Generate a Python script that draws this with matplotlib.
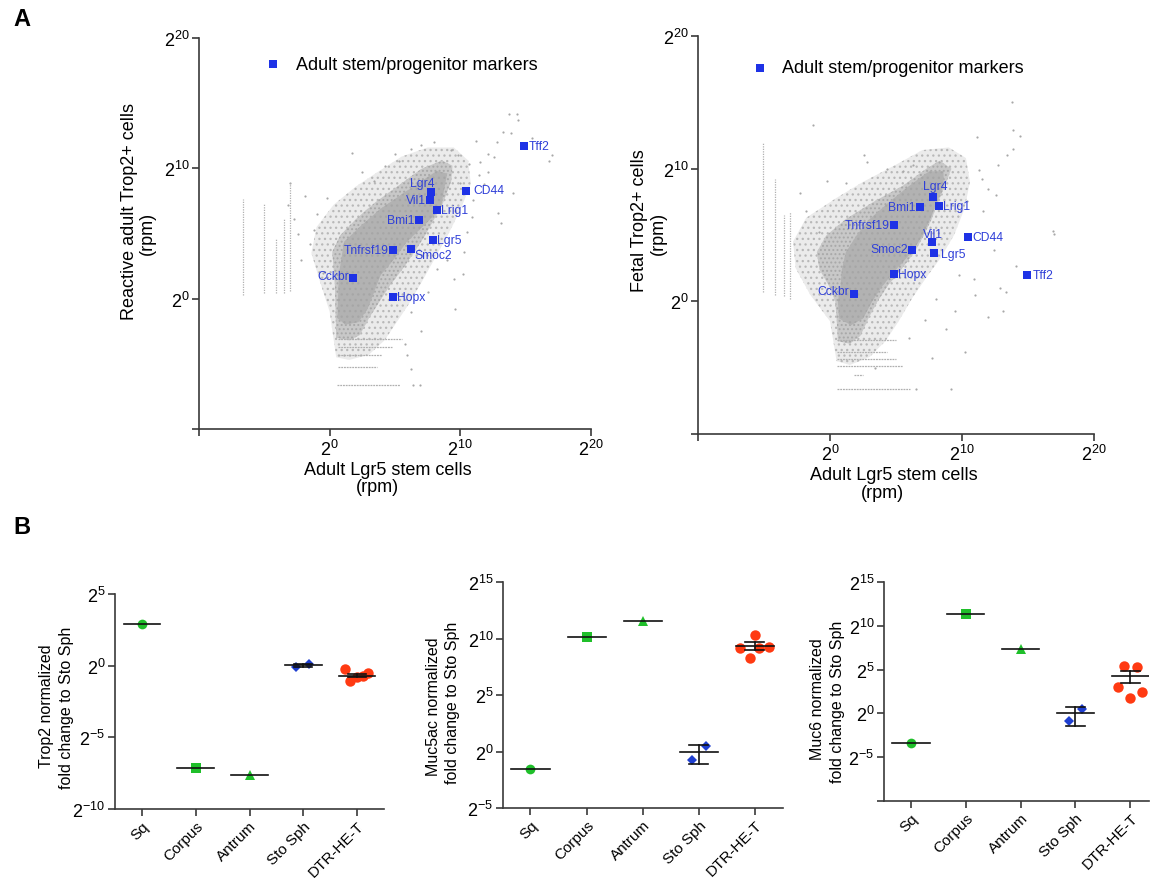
import numpy as np
import matplotlib
matplotlib.use('Agg')
import matplotlib.pyplot as plt
from matplotlib.patches import Polygon

plt.rcParams['font.family'] = ['Liberation Sans', 'DejaVu Sans']
plt.rcParams['mathtext.fontset'] = 'custom'
plt.rcParams['mathtext.rm'] = 'Liberation Sans'
plt.rcParams['mathtext.it'] = 'Liberation Sans:italic'
plt.rcParams['mathtext.bf'] = 'Liberation Sans:bold'
plt.rcParams['hatch.linewidth'] = 0.9

# ---------------- DATA (log2 units) ----------------
genes = ['Tff2', 'CD44', 'Lgr4', 'Vil1', 'Lrig1', 'Bmi1', 'Lgr5', 'Smoc2', 'Tnfrsf19', 'Cckbr', 'Hopx']
adult_lgr5_log2 = [14.9, 10.47, 7.78, 7.69, 8.22, 6.83, 7.87, 6.2, 4.82, 1.8, 4.83]
reactive_trop2_log2 = [11.7, 8.24, 8.21, 7.58, 6.79, 6.05, 4.52, 3.78, 3.75, 1.61, 0.10]
fetal_trop2_log2 = [2.01, 4.82, 7.84, 4.47, 7.19, 7.14, 3.64, 3.84, 5.78, 0.58, 2.09]

# background gene cloud (left panel): solid core, dense speckle, sparse speckle outlines
core_L_x = [0.6, 0.7, 1.1, 2.4, 3.9, 5.5, 7.0, 8.2, 9.0, 8.8, 8.5, 7.2, 5.9, 4.9, 3.9, 3.4, 2.9, 2.2, 1.2]
core_L_y = [-1.5, 1.8, 4.35, 5.6, 6.9, 8.0, 9.0, 9.8, 9.6, 8.6, 6.9, 5.6, 4.35, 3.0, 1.8, 0.5, -0.77, -1.8, -2.0]
dense_L_x = [0.5, 0.4, 0.3, 0.2, 0.8, 2.0, 3.5, 5.3, 7.0, 8.6, 9.4, 9.3, 8.7, 8.0, 7.3, 6.5, 5.6, 4.6, 3.8, 3.0, 2.3, 1.5]
dense_L_y = [-3.0, 1.0, 2.3, 3.6, 4.85, 6.1, 7.4, 8.7, 9.95, 10.6, 10.2, 9.0, 7.4, 6.1, 4.85, 3.6, 2.3, 1.0, -0.25, -1.5, -2.8, -3.2]
sparse_L_x = [0.5, 0.0, -0.8, -1.4, -1.0, 0.3, 2.0, 3.8, 5.5, 7.5, 9.5, 10.6, 10.8, 10.0, 9.0, 8.0, 7.0, 6.0, 5.0, 4.2, 3.0, 1.5]
sparse_L_y = [-4.5, -1.0, 1.5, 3.5, 5.5, 7.2, 8.6, 9.8, 10.9, 11.6, 11.6, 10.6, 8.8, 6.8, 4.8, 3.0, 1.2, -0.5, -2.0, -3.2, -4.3, -4.7]
out_L_x = [13.7, 14.3, 14.4, 13.3, 13.9, 12.8, 11.2, 12.1, 12.6, 11.5, 10.7, 12.1, 11.4, 14.0, 12.9, 13.1,
           10.9, 10.5, 10.3, 17.0, 16.8, 15.5, 11.8, 9.8, 9.0, 8.2, 9.5, 7.5, 6.2, 5.0, 5.3, 3.4, 1.7,
           -0.2, -1.0, -3.0, -2.7, -1.5, -0.5, -1.2, 2.5, 4.2, 6.2, 7.0, 8.0, 9.3, 10.0, 11.0, 10.2, 9.6,
           7.0, 5.8, 6.4, 6.2, 6.9, 5.9, -3.2, -2.4, -1.9, -2.2]
out_L_y = [14.2, 14.2, 13.7, 12.8, 12.7, 12.0, 12.1, 11.1, 10.9, 10.5, 10.3, 9.7, 9.5, 8.1, 6.6, 5.8,
           6.3, 5.1, 3.6, 11.0, 10.6, 12.3, 8.8, 11.0, 3.0, 2.3, 1.5, 0.5, -1.0, 11.1, 10.6, 9.0, 11.2,
           7.7, 6.5, 8.9, 6.1, 4.2, 2.0, 5.3, 9.7, 10.2, 11.5, 11.8, 12.0, 11.4, 8.9, 7.6, 1.9, -0.8,
           -2.5, -3.5, -6.6, -5.4, -6.6, -4.3, 7.2, 5.0, 7.9, 3.0]
# right panel
core_R_x = [0.7, 0.6, 0.8, 0.9, 1.2, 2.0, 3.0, 4.5, 6.0, 7.5, 8.6, 8.6, 8.1, 7.6, 7.0, 6.2, 5.0, 4.0, 3.2, 2.5, 1.6]
core_R_y = [-1.3, 0.0, 1.2, 2.4, 3.7, 4.95, 6.2, 7.5, 8.7, 9.8, 9.8, 8.7, 7.5, 6.2, 4.95, 3.7, 2.4, 1.2, 0.0, -1.3, -1.8]
dense_R_x = [0.6, 0.5, 0.4, -0.1, -0.8, -1.0, -0.3, 1.2, 3.3, 5.5, 7.3, 8.3, 9.2, 8.7, 8.2, 7.7, 7.1, 6.4, 5.4, 4.4, 3.6, 2.9, 2.3, 1.5]
dense_R_y = [-3.0, -1.3, 0.0, 1.2, 2.4, 3.7, 4.95, 6.2, 7.5, 8.7, 10.0, 10.6, 10.0, 8.7, 7.5, 6.2, 4.95, 3.7, 2.4, 1.2, 0.0, -1.3, -2.6, -3.2]
sparse_R_x = [0.5, 0.0, -1.5, -2.6, -2.8, -1.8, 0.5, 2.5, 5.0, 7.0, 9.0, 10.3, 10.6, 10.2, 9.4, 8.4, 7.3, 6.2, 5.2, 4.2, 3.0, 1.5]
sparse_R_y = [-4.5, -1.5, 0.5, 2.5, 4.5, 6.3, 7.8, 9.0, 10.3, 11.4, 11.6, 10.8, 9.0, 7.0, 5.0, 3.3, 1.8, 0.2, -1.5, -3.0, -4.2, -4.8]
out_R_x = [13.76, 13.9, 14.4, 11.1, 13.9, 13.4, 12.75, 12.0, 11.5, 17.0, 14.1, 12.9, 13.3, 11.0, 13.1, 12.0,
           9.5, 8.8, 10.2, 10.9, 9.2, 6.5, -1.3, 2.6, 2.8, -0.25, -2.3, 4.3, 6.3, 5.5, 1.2, 16.9, 11.6,
           10.4, 12.4, 9.8, 8.0, 7.2, 6.0, 3.4, -0.8, -1.8, 11.3, 12.6, 7.7]
out_R_y = [15.05, 12.9, 12.5, 12.4, 11.5, 11.0, 10.25, 8.5, 9.2, 5.1, 2.67, 1.0, 0.7, 0.5, -0.7, -1.2,
           -0.7, -2.1, -3.8, 1.67, -6.6, -6.6, 13.3, 11.0, 10.5, 9.1, 8.2, 10.0, 10.25, 9.8, 8.9, 5.3, 6.8,
           7.6, 3.9, 2.0, 0.2, -1.4, -2.8, -5.0, 5.2, 6.8, 9.9, 8.0, -4.3]

# discrete low-count rows / columns of the cloud
cols_L_x = [-6.6, -5.05, -4.1, -3.5, -3.0]
cols_L_y0 = [0.25, 0.4, 0.4, 0.4, 0.6]
cols_L_y1 = [7.65, 7.3, 4.6, 6.1, 8.9]
rows_L_y = [-3.07, -3.7, -4.35, -5.25, -6.65]
rows_L_x0 = [0.6, 0.6, 0.6, 0.6, 0.55]
rows_L_x1 = [5.5, 4.8, 4.0, 3.6, 5.4]
cols_R_x = [-5.1, -4.15, -3.5, -3.05]
cols_R_y0 = [0.7, 0.45, 0.4, 0.15]
cols_R_y1 = [12.0, 9.2, 6.5, 6.7]
rows_R_y = [-2.9, -3.85, -4.35, -4.85, -5.55, -6.6]
rows_R_x0 = [0.5, 0.55, 0.55, 0.55, 1.8, 0.55]
rows_R_x1 = [5.0, 4.3, 5.0, 5.5, 2.5, 6.05]

# Panel B: log2 fold change to Sto Sph
categories = ['Sq', 'Corpus', 'Antrum', 'Sto Sph', 'DTR-HE-T']
trop2_points = [[2.93], [-7.14], [-7.65], [-0.12, 0.14], [-0.24, -0.79, -1.07, -0.70, -0.54]]
trop2_mean = [2.93, -7.14, -7.65, 0.02, -0.70]
trop2_low = [2.93, -7.14, -7.65, -0.08, -0.80]
trop2_high = [2.93, -7.14, -7.65, 0.12, -0.60]
muc5ac_points = [[-1.59], [10.12], [11.56], [-0.71, 0.50], [10.32, 9.18, 9.12, 9.29, 8.24]]
muc5ac_mean = [-1.59, 10.12, 11.56, 0.0, 9.35]
muc5ac_low = [-1.59, 10.12, 11.56, -1.12, 9.0]
muc5ac_high = [-1.59, 10.12, 11.56, 0.59, 9.7]
muc6_points = [[-3.35], [11.37], [7.34], [-0.91, 0.46], [5.44, 5.25, 3.04, 2.47, 1.71]]
muc6_mean = [-3.35, 11.37, 7.34, 0.0, 4.30]
muc6_low = [-3.35, 11.37, 7.34, -1.44, 3.46]
muc6_high = [-3.35, 11.37, 7.34, 0.68, 4.79]

# ---------------- STYLE ----------------
W, H = 1151, 879
fig = plt.figure(figsize=(W / 100, H / 100), dpi=100)
BLUE_M = '#1e32e6'
BLUE_T = '#2f3fd8'
SPINE = '#3a3a3a'


def ax_px(l, t, r, b):
    return fig.add_axes([l / W, 1 - b / H, (r - l) / W, (b - t) / H])


def p2(v):
    return np.power(2.0, np.asarray(v, dtype=float))


def style_spines(ax):
    for s in ['top', 'right']:
        ax.spines[s].set_visible(False)
    for s in ['left', 'bottom']:
        ax.spines[s].set_color(SPINE)
        ax.spines[s].set_linewidth(1.2)
    ax.tick_params(which='major', direction='out', length=5, width=1.2, color=SPINE,
                   labelsize=13, pad=2)
    ax.tick_params(which='minor', length=0)


def poly(ax, xs, ys, **kw):
    ax.add_patch(Polygon(np.column_stack([p2(xs), p2(ys)]), closed=True, **kw))


def scatter_panel(ax, yvals, core, dense, sparse, outl, cols, rows, label_style, legend_xy):
    ax.set_xscale('log', base=2)
    ax.set_yscale('log', base=2)
    ax.set_xlim(2 ** -10, 2 ** 20)
    ax.set_ylim(2 ** -10, 2 ** 20)
    style_spines(ax)
    ticks = p2([-10, 0, 10, 20])
    lbls = ['', r'$\mathregular{2^{0}}$', r'$\mathregular{2^{10}}$', r'$\mathregular{2^{20}}$']
    ax.set_xticks(ticks)
    ax.set_xticklabels(lbls)
    ax.set_yticks(ticks)
    ax.set_yticklabels(lbls)
    ax.xaxis.set_minor_locator(matplotlib.ticker.NullLocator())
    ax.yaxis.set_minor_locator(matplotlib.ticker.NullLocator())

    poly(ax, *sparse, facecolor='#ebebeb', edgecolor='#b8b8b8', linewidth=0, hatch='...', zorder=1)
    poly(ax, *dense, facecolor='#c8c8c8', edgecolor='#a8a8a8', linewidth=0, hatch='....', zorder=1.5)
    poly(ax, *core, facecolor='#b2b2b2', edgecolor='#a6a6a6', linewidth=0, hatch='...', zorder=2)
    ax.scatter(p2(outl[0]), p2(outl[1]), s=2.5, color='#a8a8a8', linewidths=0, zorder=2)
    ax.vlines(p2(cols[0]), p2(cols[1]), p2(cols[2]), colors='#b0b0b0', linewidth=0.9,
              linestyles=(0, (1, 1)), zorder=2)
    ax.hlines(p2(rows[0]), p2(rows[1]), p2(rows[2]), colors='#b0b0b0', linewidth=0.9,
              linestyles=(0, (1.5, 0.7)), zorder=2)

    ax.plot(p2(adult_lgr5_log2), p2(yvals), 's', color=BLUE_M, ms=5.2, mew=0, zorder=5)
    for g, xv, yv in zip(genes, adult_lgr5_log2, yvals):
        ha, dx, dy = label_style[g]
        ax.annotate(g, (2.0 ** xv, 2.0 ** yv), xytext=(dx, dy), textcoords='offset points',
                    ha=ha, va='center', fontsize=8.7, color=BLUE_T, zorder=6)
    lx, ly, tx = legend_xy
    ax.plot([lx], [ly], 's', color=BLUE_M, ms=5.2, mew=0, transform=ax.transAxes, clip_on=False)
    ax.text(tx, ly, 'Adult stem/progenitor markers', transform=ax.transAxes,
            ha='left', va='center', fontsize=13)


labels_left = {
    'Tff2': ('left', 3, 0), 'CD44': ('left', 5, 1), 'Lgr4': ('right', 2, 6),
    'Vil1': ('right', -3, 0), 'Lrig1': ('left', 3, 0), 'Bmi1': ('right', -3, 0),
    'Lgr5': ('left', 3, 0), 'Smoc2': ('left', 3, -4), 'Tnfrsf19': ('right', -3, 0),
    'Cckbr': ('right', -3, 1), 'Hopx': ('left', 3, 0)}
labels_right = {
    'Tff2': ('left', 4, 0), 'CD44': ('left', 3, 0), 'Lgr4': ('center', 2, 8),
    'Vil1': ('center', 1, 6), 'Lrig1': ('left', 3, 0), 'Bmi1': ('right', -3, 0),
    'Lgr5': ('left', 5, -1), 'Smoc2': ('right', -3, 1), 'Tnfrsf19': ('right', -3, 0),
    'Cckbr': ('right', -3, 2), 'Hopx': ('left', 3, 0)}

axA1 = ax_px(199, 39, 591, 430)
scatter_panel(axA1, reactive_trop2_log2, (core_L_x, core_L_y), (dense_L_x, dense_L_y),
              (sparse_L_x, sparse_L_y), (out_L_x, out_L_y), (cols_L_x, cols_L_y0, cols_L_y1),
              (rows_L_y, rows_L_x0, rows_L_x1), labels_left, (0.189, 0.933, 0.248))
axA2 = ax_px(698, 37, 1094, 435)
scatter_panel(axA2, fetal_trop2_log2, (core_R_x, core_R_y), (dense_R_x, dense_R_y),
              (sparse_R_x, sparse_R_y), (out_R_x, out_R_y), (cols_R_x, cols_R_y0, cols_R_y1),
              (rows_R_y, rows_R_x0, rows_R_x1), labels_right, (0.157, 0.920, 0.212))

# axis titles of panel A
fig.text(388 / W, 1 - 471 / H, 'Adult Lgr5 stem cells', ha='center', va='center', fontsize=13)
fig.text(377 / W, 1 - 488 / H, '(rpm)', ha='center', va='center', fontsize=13)
fig.text(130 / W, 1 - 212 / H, 'Reactive adult Trop2+ cells', ha='center', va='center',
         fontsize=13, rotation=90)
fig.text(147 / W, 1 - 233 / H, '(rpm)', ha='center', va='center', fontsize=13, rotation=90)
fig.text(894 / W, 1 - 476 / H, 'Adult Lgr5 stem cells', ha='center', va='center', fontsize=13)
fig.text(882 / W, 1 - 493 / H, '(rpm)', ha='center', va='center', fontsize=13)
fig.text(640 / W, 1 - 221 / H, 'Fetal Trop2+ cells', ha='center', va='center',
         fontsize=13, rotation=90)
fig.text(658 / W, 1 - 233 / H, '(rpm)', ha='center', va='center', fontsize=13, rotation=90)

fig.text(22 / W, 1 - 20 / H, 'A', ha='center', va='center', fontsize=17, fontweight='bold')
fig.text(22 / W, 1 - 527 / H, 'B', ha='center', va='center', fontsize=17, fontweight='bold')

# ---------------- Panel B ----------------
group_style = [('o', '#1fbf2a', 7.0), ('s', '#1fbf2a', 7.0), ('^', '#1fbf2a', 6.5),
               ('D', '#1f3fd0', 5.0), ('o', '#ff3a12', 7.5)]
offsets = {
    'trop2': [[0], [0], [0], [-0.14, 0.11], [-0.23, 0.0, -0.14, 0.11, 0.2]],
    'muc5ac': [[0], [0], [0], [-0.12, 0.12], [0.0, -0.26, 0.08, 0.25, -0.08]],
    'muc6': [[0], [0], [0], [-0.11, 0.12], [-0.12, 0.12, -0.22, 0.22, 0.0]],
}


def dot_panel(ax, key, points, means, lows, highs, ylim, yticks, ytlabels, xlim):
    style_spines(ax)
    ax.set_yscale('log', base=2)
    ax.set_ylim(2.0 ** ylim[0], 2.0 ** ylim[1])
    ax.set_xlim(*xlim)
    ax.set_yticks(p2(yticks))
    ax.set_yticklabels(ytlabels)
    ax.yaxis.set_minor_locator(matplotlib.ticker.NullLocator())
    ax.set_xticks(range(len(categories)))
    ax.set_xticklabels(categories, rotation=45, ha='right', rotation_mode='anchor', fontsize=11)
    ax.tick_params(axis='x', pad=2)
    ax.tick_params(axis='y', labelsize=13)
    for i, (pts, m, lo, hi) in enumerate(zip(points, means, lows, highs)):
        mk, col, ms = group_style[i]
        xs = [i + o for o in offsets[key][i]]
        ax.plot(xs, p2(pts), ls='', marker=mk, color=col, ms=ms, mew=0, zorder=3)
        ax.plot([i - 0.34, i + 0.34], p2([m, m]), color='#111111', lw=1.2, zorder=4)
        if hi != lo:
            ax.plot([i, i], p2([lo, hi]), color='#111111', lw=1.2, zorder=4)
            ax.plot([i - 0.17, i + 0.17], p2([lo, lo]), color='#111111', lw=1.2, zorder=4)
            ax.plot([i - 0.17, i + 0.17], p2([hi, hi]), color='#111111', lw=1.2, zorder=4)


axB1 = ax_px(115, 595, 384, 810)
dot_panel(axB1, 'trop2', trop2_points, trop2_mean, trop2_low, trop2_high, (-10, 5),
          [-10, -5, 0, 5],
          [r'$\mathregular{2^{-10}}$', r'$\mathregular{2^{-5}}$', r'$\mathregular{2^{0}}$',
           r'$\mathregular{2^{5}}$'], (-0.5, 4.5))
axB2 = ax_px(503, 583, 783, 809)
dot_panel(axB2, 'muc5ac', muc5ac_points, muc5ac_mean, muc5ac_low, muc5ac_high, (-5, 15),
          [-5, 0, 5, 10, 15],
          [r'$\mathregular{2^{-5}}$', r'$\mathregular{2^{0}}$', r'$\mathregular{2^{5}}$',
           r'$\mathregular{2^{10}}$', r'$\mathregular{2^{15}}$'], (-0.49, 4.5))
axB3 = ax_px(884, 583, 1149, 802)
dot_panel(axB3, 'muc6', muc6_points, muc6_mean, muc6_low, muc6_high, (-10, 15),
          [-10, -5, 0, 5, 10, 15],
          ['', r'$\mathregular{2^{-5}}$', r'$\mathregular{2^{0}}$', r'$\mathregular{2^{5}}$',
           r'$\mathregular{2^{10}}$', r'$\mathregular{2^{15}}$'], (-0.49, 4.34))

fig.text(47 / W, 1 - 706 / H, 'Trop2 normalized', rotation=90, ha='center', va='center', fontsize=11.5)
fig.text(67 / W, 1 - 708 / H, 'fold change to Sto Sph', rotation=90, ha='center', va='center', fontsize=11.5)
fig.text(433 / W, 1 - 707 / H, 'Muc5ac normalized', rotation=90, ha='center', va='center', fontsize=11.5)
fig.text(453 / W, 1 - 703 / H, 'fold change to Sto Sph', rotation=90, ha='center', va='center', fontsize=11.5)
fig.text(818 / W, 1 - 699 / H, 'Muc6 normalized', rotation=90, ha='center', va='center', fontsize=11.5)
fig.text(837 / W, 1 - 702 / H, 'fold change to Sto Sph', rotation=90, ha='center', va='center', fontsize=11.5)

fig.savefig('out.png', dpi=100)
